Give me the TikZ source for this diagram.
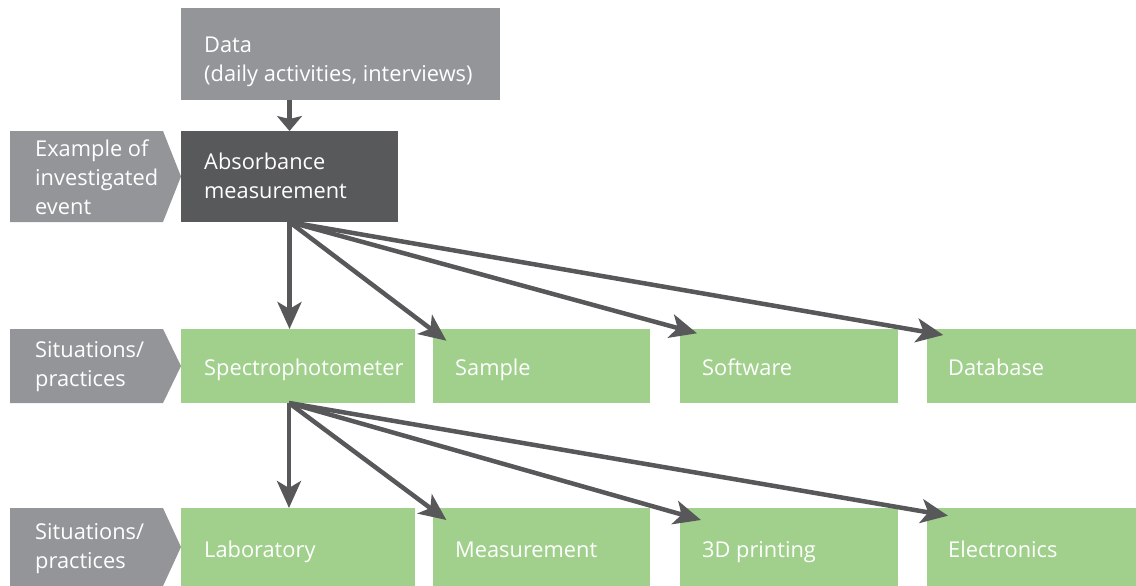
\documentclass[tikz,border=0pt]{standalone}
\usepackage{fontspec}
\setmainfont{Open Sans}
\usetikzlibrary{arrows.meta,calc}
\definecolor{boxgray}{HTML}{939598}
\definecolor{boxdark}{HTML}{58595B}
\definecolor{boxgreen}{HTML}{A0D08C}
\definecolor{arrowgray}{HTML}{58585A}
\tikzset{
  box/.style={anchor=north west, inner sep=0pt, outer sep=0pt},
  txt/.style={font=\fontsize{21.8}{29}\selectfont, text=white, anchor=base west, inner sep=0pt, align=left},
  arr/.style={draw=arrowgray, line width=4.5pt, -{Stealth[length=27pt,width=24pt,inset=7pt]}},
  smallarr/.style={draw=arrowgray, line width=4.5pt, -{Stealth[length=15pt,width=25pt,inset=3pt]}},
}
\begin{document}
\begin{tikzpicture}[x=1pt,y=-1pt]
\useasboundingbox (0,0) rectangle (1136,586);
% top
\node[box, fill=boxgray, minimum width=319pt, minimum height=92pt] (data) at (181,8) {};
\node[txt] (datat) at ($(data.north west)+(23,73.5)$) {Data\\(daily activities, interviews)};
\fill[boxgray] (10,131) -- (163,131) -- (181,176.5) -- (163,222) -- (10,222) -- cycle;
\node[txt] (l1) at (35,214.5) {Example of\\investigated\\event};
\node[box, fill=boxdark, minimum width=217pt, minimum height=91pt] (abs) at (181,131) {};
\node[txt] (abst) at ($(abs.north west)+(23,67.5)$) {Absorbance\\measurement};
% row 2
\fill[boxgray] (10,329) -- (163,329) -- (181,366) -- (163,403) -- (10,403) -- cycle;
\node[txt] (l2) at (35,386.7) {Situations/\\practices};
\node[box, fill=boxgreen, minimum width=234pt, minimum height=74pt] (spec) at (181,329) {};
\node[box, fill=boxgreen, minimum width=217pt, minimum height=74pt] (sample) at (433,329) {};
\node[box, fill=boxgreen, minimum width=218pt, minimum height=74pt] (soft) at (680,329) {};
\node[box, fill=boxgreen, minimum width=209pt, minimum height=74pt] (db) at (927,329) {};
\node[txt] (spect) at ($(spec.north west)+(23,46)$) {Spectrophotometer};
\node[txt] (samplet) at ($(sample.north west)+(22,46)$) {Sample};
\node[txt] (softt) at ($(soft.north west)+(22,46)$) {Software};
\node[txt] (dbt) at ($(db.north west)+(21,46)$) {Database};
% row 3
\fill[boxgray] (10,508) -- (163,508) -- (181,547) -- (163,586) -- (10,586) -- cycle;
\node[txt] (l3) at (35,568) {Situations/\\practices};
\node[box, fill=boxgreen, minimum width=234pt, minimum height=78pt] (lab) at (181,508) {};
\node[box, fill=boxgreen, minimum width=217pt, minimum height=78pt] (meas) at (433,508) {};
\node[box, fill=boxgreen, minimum width=218pt, minimum height=78pt] (print) at (680,508) {};
\node[box, fill=boxgreen, minimum width=209pt, minimum height=78pt] (elec) at (927,508) {};
\node[txt] (labt) at ($(lab.north west)+(23,49)$) {Laboratory};
\node[txt] (meast) at ($(meas.north west)+(22,49)$) {Measurement};
\node[txt] (printt) at ($(print.north west)+(22,49)$) {3D printing};
\node[txt] (elect) at ($(elec.north west)+(21,49)$) {Electronics};
% arrows
\draw[smallarr] (abs.north |- data.south) -- (abs.north);
\draw[arr] (abs.south) -- (abs.south |- spec.north);
\draw[arr] (abs.south) -- ($(sample.north west)+(13.4,11.7)$);
\draw[arr] (abs.south) -- ($(soft.north west)+(17,4.3)$);
\draw[arr] (abs.south) -- ($(db.north west)+(16.3,6)$);
\coordinate (s0) at ($(spec.south west)+(108,0)$);
\draw[arr] (s0) -- (s0 |- lab.north);
\draw[arr] (s0) -- ($(meas.north west)+(13.4,12)$);
\draw[arr] (s0) -- ($(print.north west)+(21,12)$);
\draw[arr] (s0) -- ($(elec.north west)+(21,7.7)$);
\end{tikzpicture}
\end{document}
